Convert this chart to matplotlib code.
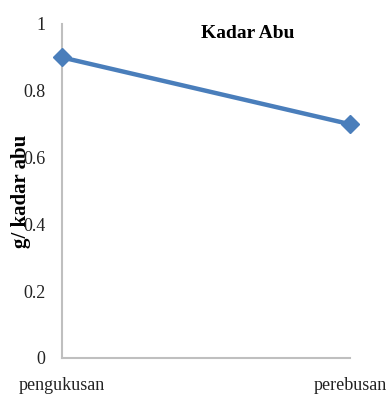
import matplotlib.pyplot as plt

# data
categories = ['pengukusan', 'perebusan']
kadar_abu = [0.9, 0.7]
y_ticks = [0, 0.2, 0.4, 0.6, 0.8, 1]
y_tick_labels = ['0', '0.2', '0.4', '0.6', '0.8', '1']

plt.rcParams['font.family'] = ['Liberation Serif', 'DejaVu Serif']

fig = plt.figure(figsize=(3.88, 4.01), dpi=100)
fig.patch.set_facecolor('white')
ax = fig.add_axes([62 / 388, 1 - 358 / 401, (350 - 62) / 388, (358 - 24) / 401])

x = list(range(len(categories)))
ax.plot(x, kadar_abu, color='#4a7ebb', lw=3.2, marker='D', markersize=9,
        clip_on=False, zorder=5)

ax.set_xlim(0, len(categories) - 1)
ax.set_ylim(0, 1)
ax.set_xticks(x)
ax.set_xticklabels(categories, fontsize=13)
ax.set_yticks(y_ticks)
ax.set_yticklabels(y_tick_labels, fontsize=13)
ax.tick_params(axis='both', length=0, colors='#222222')
ax.tick_params(axis='y', pad=12)
ax.tick_params(axis='x', pad=14)

for side in ['top', 'right']:
    ax.spines[side].set_visible(False)
for side in ['left', 'bottom']:
    ax.spines[side].set_color('#bfbfbf')
    ax.spines[side].set_linewidth(1.5)

# judul dan label sumbu
fig.text(248 / 388, 1 - 33 / 401, 'Kadar Abu', ha='center', va='center',
         fontsize=14, fontweight='bold')
fig.text(21 / 388, 1 - 191 / 401, 'g/ kadar abu', ha='center', va='center',
         rotation=90, fontsize=15, fontweight='bold')

fig.savefig('out.png', dpi=100, facecolor='white')
